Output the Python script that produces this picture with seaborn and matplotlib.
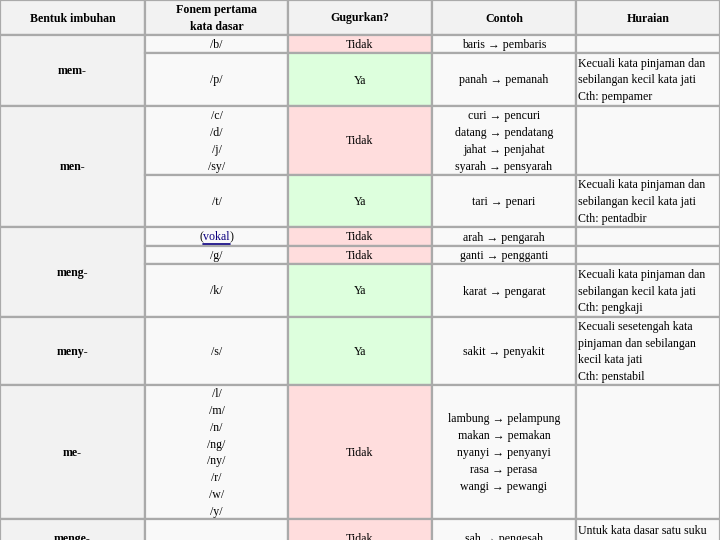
import seaborn as sns
import matplotlib.pyplot as plt

# table content
headers = ["Bentuk imbuhan", "Fonem pertama\nkata dasar", "Gugurkan?", "Contoh", "Huraian"]

prefixes = ["mem-", "men-", "meng-", "meny-", "me-", "menge-"]
prefix_span = [2, 2, 3, 1, 1, 1]   # number of sub-rows covered by each prefix

phonemes = ["/b/", "/p/", "/c/\n/d/\n/j/\n/sy/", "/t/", "(vokal)", "/g/", "/k/", "/s/",
            "/l/\n/m/\n/n/\n/ng/\n/ny/\n/r/\n/w/\n/y/", ""]
gugur = ["Tidak", "Ya", "Tidak", "Ya", "Tidak", "Tidak", "Ya", "Ya", "Tidak", "Tidak"]
contoh = ["baris → pembaris",
          "panah → pemanah",
          "curi → pencuri\ndatang → pendatang\njahat → penjahat\nsyarah → pensyarah",
          "tari → penari",
          "arah → pengarah",
          "ganti → pengganti",
          "karat → pengarat",
          "sakit → penyakit",
          "lambung → pelampung\nmakan → pemakan\nnyanyi → penyanyi\nrasa → perasa\nwangi → pewangi",
          "sah → pengesah"]
huraian = ["",
           "Kecuali kata pinjaman dan\nsebilangan kecil kata jati\nCth: pempamer",
           "",
           "Kecuali kata pinjaman dan\nsebilangan kecil kata jati\nCth: pentadbir",
           "",
           "",
           "Kecuali kata pinjaman dan\nsebilangan kecil kata jati\nCth: pengkaji",
           "Kecuali sesetengah kata\npinjaman dan sebilangan\nkecil kata jati\nCth: penstabil",
           "",
           "Untuk kata dasar satu suku\nkata"]

# layout (pixels)
col_edges = [0, 145, 288, 432, 576, 720]
header_h = 35
row_h = [18, 53, 69, 52, 19, 18, 53, 68, 134, 38]

sns.set_theme(style="white")
plt.rcParams['font.family'] = ['Liberation Serif', 'DejaVu Serif']
plt.rcParams['text.color'] = 'black'

fig = plt.figure(figsize=(7.2, 5.4), dpi=100)
ax = fig.add_axes([0, 0, 1, 1])
ax.set_xlim(0, 720)
ax.set_ylim(540, 0)
ax.axis('off')

grid = '#aaaaaa'
lw = 1.6
fs = 8.6
ls = 1.53
dy = 1.0
link = '#0b0080'
col_fill = {"Tidak": '#ffdddd', "Ya": '#ddffdd'}

widths = [col_edges[i + 1] - col_edges[i] for i in range(5)]
centers = [(col_edges[i] + col_edges[i + 1]) / 2 for i in range(5)]

# header
ax.bar(col_edges[:5], [header_h] * 5, width=widths, bottom=0, align='edge',
       color='#f2f2f2', edgecolor=grid, linewidth=lw)
for c, h in zip(centers, headers):
    ax.text(c, header_h / 2 + dy, h, ha='center', va='center', fontsize=fs,
            fontweight='bold', linespacing=1.45)

tops = [header_h]
for h in row_h:
    tops.append(tops[-1] + h)

# prefix column
i = 0
for p, span in zip(prefixes, prefix_span):
    y0, y1 = tops[i], tops[i + span]
    ax.bar(col_edges[0], y1 - y0, width=widths[0], bottom=y0, align='edge',
           color='#f2f2f2', edgecolor=grid, linewidth=lw)
    ax.text(centers[0], (y0 + y1) / 2 + dy, p, ha='center', va='center',
            fontsize=fs, fontweight='bold')
    i += span

# body rows
for r in range(len(row_h)):
    y0, h = tops[r], row_h[r]
    ym = y0 + h / 2 + dy
    fills = ['#f9f9f9', col_fill[gugur[r]], '#f9f9f9', '#f9f9f9']
    ax.bar(col_edges[1:5], [h] * 4, width=widths[1:], bottom=y0, align='edge',
           color=fills, edgecolor=grid, linewidth=lw)
    if phonemes[r] == "(vokal)":
        word = phonemes[r].strip("()")
        t = ax.text(centers[1], ym, word, ha='center', va='center',
                    fontsize=fs, color=link)
        fig.canvas.draw()
        bb = t.get_window_extent().transformed(ax.transData.inverted())
        ax.text(bb.x0, ym, "(", ha='right', va='center', fontsize=fs)
        ax.text(bb.x1, ym, ")", ha='left', va='center', fontsize=fs)
        ax.plot([bb.x0, bb.x1], [ym + 6, ym + 6], color=link, lw=1.2)
    else:
        ax.text(centers[1], ym, phonemes[r], ha='center', va='center',
                fontsize=fs, linespacing=ls)
    ax.text(centers[2], ym, gugur[r], ha='center', va='center', fontsize=fs)
    ax.text(centers[3], ym, contoh[r], ha='center', va='center', fontsize=fs,
            linespacing=ls)
    ax.text(col_edges[4] + 1.5, ym, huraian[r], ha='left', va='center', fontsize=fs,
            linespacing=ls)

fig.savefig("out.png", dpi=100)
